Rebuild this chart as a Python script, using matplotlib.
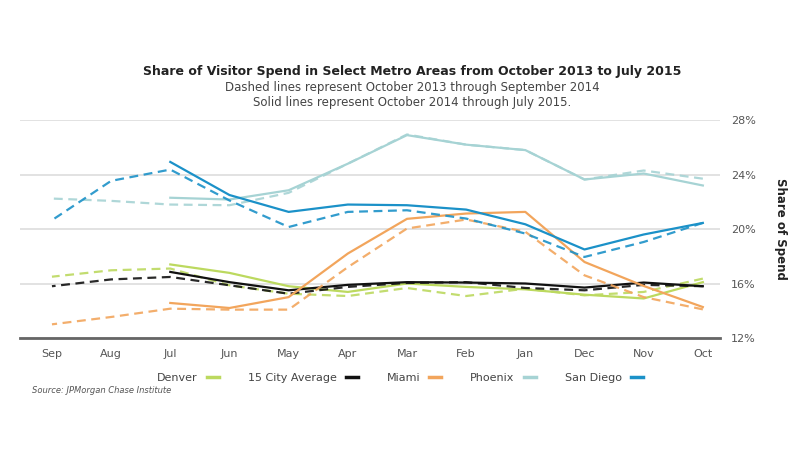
import matplotlib.pyplot as plt
import numpy as np

# Meses (la referencia esta en espejo: Oct a la derecha, eje Y a la derecha)
months = ['Oct', 'Nov', 'Dec', 'Jan', 'Feb', 'Mar', 'Apr', 'May', 'Jun', 'Jul', 'Aug', 'Sep']
yticks = [12, 16, 20, 24, 28]

# Oct 2014 - Jul 2015 (lineas solidas)
san_diego_solid = [20.45, 19.6, 18.5, 20.35, 21.43, 21.75, 21.8, 21.26, 22.5, 24.93]
phoenix_solid = [23.2, 24.08, 23.64, 25.8, 26.2, 26.9, 24.8, 22.85, 22.17, 22.3]
miami_solid = [14.27, 15.82, 17.58, 21.26, 21.14, 20.75, 18.2, 15.0, 14.2, 14.57]
avg_solid = [15.8, 16.07, 15.7, 16.0, 16.07, 16.1, 15.9, 15.5, 16.1, 16.85]
denver_solid = [16.1, 14.9, 15.18, 15.57, 15.75, 16.0, 15.38, 15.8, 16.78, 17.4]

# Oct 2013 - Sep 2014 (lineas discontinuas)
san_diego_dash = [20.45, 19.05, 17.95, 19.67, 20.77, 21.38, 21.26, 20.15, 22.1, 24.37, 23.54, 20.65]
phoenix_dash = [23.7, 24.3, 23.64, 25.8, 26.2, 26.95, 24.8, 22.66, 21.75, 21.8, 22.07, 22.24]
miami_dash = [14.1, 15.0, 16.6, 19.8, 20.7, 20.04, 17.2, 14.08, 14.08, 14.15, 13.54, 13.0]
avg_dash = [15.8, 15.9, 15.5, 15.67, 16.1, 16.04, 15.75, 15.25, 15.87, 16.48, 16.3, 15.8]
denver_dash = [16.36, 15.38, 15.13, 15.62, 15.08, 15.67, 15.08, 15.25, 15.87, 17.1, 16.97, 16.5]

series = [
    ('Denver', '#bcd95f', denver_solid, denver_dash),
    ('15 City Average', '#111111', avg_solid, avg_dash),
    ('Miami', '#f2a55c', miami_solid, miami_dash),
    ('Phoenix', '#a6d3d4', phoenix_solid, phoenix_dash),
    ('San Diego', '#1b91c8', san_diego_solid, san_diego_dash),
]

fig = plt.figure(figsize=(8, 4.5), dpi=100)
ax = fig.add_axes([0.025, 0.249, 0.875, 0.484])

x = np.arange(len(months))
handles = []
for name, color, solid, dash in series:
    ax.plot(x, dash, color=color, lw=1.6, ls=(0, (4, 2.5)), alpha=0.9, clip_on=False)
    h, = ax.plot(x[:len(solid)], solid, color=color, lw=1.6, clip_on=False)
    handles.append((h, name))

ax.set_xlim(11.54, -0.29)
ax.set_ylim(12, 28)
ax.set_xticks(x)
ax.set_xticklabels(months, fontsize=8, color='#555555')
ax.set_yticks(yticks)
ax.set_yticklabels([f'{v}%' for v in yticks], fontsize=8, color='#555555')
ax.yaxis.tick_right()
ax.yaxis.set_label_position('right')
ax.set_ylabel('Share of Spend', fontsize=8.5, fontweight='bold', rotation=270, labelpad=22, color='#222222')
ax.tick_params(length=0, pad=8)
ax.grid(axis='y', color='#dddddd', lw=1.2)
ax.set_axisbelow(True)
for s in ['top', 'left', 'right']:
    ax.spines[s].set_visible(False)
ax.spines['bottom'].set_color('#666666')
ax.spines['bottom'].set_linewidth(2)

fig.text(0.515, 0.84, 'Share of Visitor Spend in Select Metro Areas from October 2013 to July 2015',
         ha='center', va='center', fontsize=9, fontweight='bold', color='#222222')
fig.text(0.515, 0.805, 'Dashed lines represent October 2013 through September 2014',
         ha='center', va='center', fontsize=8.5, color='#444444')
fig.text(0.515, 0.772, 'Solid lines represent October 2014 through July 2015.',
         ha='center', va='center', fontsize=8.5, color='#444444')

leg = fig.legend([h for h, n in handles], [n for h, n in handles], loc='center',
                 bbox_to_anchor=(0.5, 0.16), ncol=5, frameon=False, fontsize=8,
                 markerfirst=False, handlelength=1.1, columnspacing=2.6)
for line in leg.get_lines():
    line.set_linewidth(2.5)
for t in leg.get_texts():
    t.set_color('#444444')

fig.text(0.04, 0.133, 'Source: JPMorgan Chase Institute', va='center', fontsize=6,
         color='#555555', style='italic')

plt.savefig('out.png', dpi=100)
